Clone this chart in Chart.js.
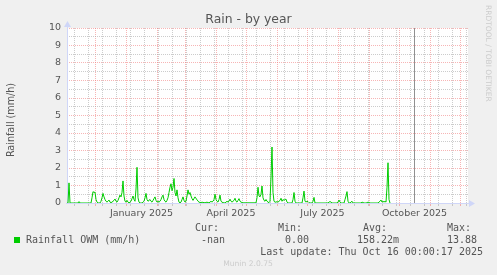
<!DOCTYPE html>
<html>
<head>
<meta charset="utf-8">
<script src="https://cdn.jsdelivr.net/npm/chart.js@4/dist/chart.umd.min.js"></script>
<style>
html, body { margin: 0; padding: 0; background: #F0F0F0; }
canvas { display: block; }
</style>
</head>
<body>
<canvas id="grafica" width="497" height="275"></canvas>
<script>
//DATOS (dias contados desde 1 enero 2025)
const xLabels = ['January 2025', 'April 2025', 'July 2025', 'October 2025'];
const xLabelDays = [15.5, 105, 196.5, 288.5];
const monthStartDays = [-31, 0, 31, 59, 90, 120, 151, 181, 212, 243, 273, 304, 334];
const yTicks = [0, 1, 2, 3, 4, 5, 6, 7, 8, 9, 10];
const lastUpdateDay = 288;

// lluvia diaria, empieza el 3 nov 2024
const rainStartDay = -59;
const rainValues = [
  0, 0, 1.15, 0, 0, 0, 0, 0, 0, 0,
  0, 0, 0.08, 0, 0, 0, 0, 0, 0, 0,
  0, 0, 0, 0, 0, 0.3, 0.65, 0.6, 0.62, 0.2,
  0.05, 0, 0, 0, 0.1, 0.3, 0.55, 0.35, 0.2, 0.1,
  0.05, 0.1, 0.17, 0.05, 0.02, 0.05, 0.1, 0.15, 0.23, 0.1,
  0.05, 0.15, 0.3, 0.45, 0.35, 0.6, 1.26, 0.4, 0.1, 0.05,
  0.15, 0.05, 0, 0.05, 0.1, 0.25, 0.4, 0.2, 0.1, 0.8,
  2.04, 0.3, 0.05, 0, 0, 0, 0.05, 0.1, 0.3, 0.55,
  0.2, 0.1, 0.15, 0.2, 0.1, 0.05, 0.15, 0.25, 0.35, 0.15,
  0.05, 0.1, 0.05, 0.1, 0.2, 0.35, 0.45, 0.2, 0.1, 0.05,
  0.15, 0.3, 0.6, 0.9, 1.1, 0.7, 0.9, 1.4, 0.6, 0.4,
  0.75, 0.3, 0.05, 0, 0.05, 0.2, 0.35, 0.15, 0.05, 0.1,
  0.4, 0.75, 0.5, 0.6, 0.4, 0.25, 0.15, 0.25, 0.35, 0.25,
  0.2, 0.1, 0.05, 0.03, 0.02, 0.05, 0.03, 0.02, 0.01, 0.03,
  0.05, 0.02, 0.01, 0.05, 0.1, 0.05, 0.1, 0.2, 0.5, 0.2,
  0.1, 0.05, 0.2, 0.45, 0.1, 0.05, 0.02, 0.01, 0, 0.05,
  0.1, 0.05, 0.1, 0.22, 0.1, 0.05, 0.1, 0.15, 0.27, 0.1,
  0.05, 0.15, 0.25, 0.1, 0.05, 0.03, 0.01, 0.01, 0.01, 0.01,
  0.01, 0.01, 0.01, 0.01, 0.01, 0.01, 0.01, 0.01, 0.01, 0.01,
  0.3, 0.9, 0.4, 0.35, 0.5, 0.97, 0.3, 0.15, 0.1, 0.2,
  0.1, 0.05, 0.02, 0.1, 1.5, 3.2, 0.6, 0.1, 0.05, 0.05,
  0.08, 0.05, 0.1, 0.15, 0.27, 0.1, 0.2, 0.15, 0.2, 0.22,
  0.05, 0, 0, 0, 0, 0, 0.2, 0.6, 0.1, 0,
  0, 0, 0, 0, 0, 0, 0.3, 0.68, 0.1, 0.05,
  0.1, 0.08, 0.02, 0, 0, 0, 0.1, 0.32, 0, 0,
  0, 0, 0, 0, 0, 0, 0, 0, 0, 0,
  0, 0, 0.05, 0.08, 0.05, 0, 0, 0, 0, 0,
  0, 0.05, 0.17, 0.05, 0, 0, 0, 0, 0.2, 0.4,
  0.65, 0.1, 0, 0, 0.05, 0.1, 0, 0, 0, 0,
  0, 0, 0, 0, 0, 0.05, 0.03, 0, 0, 0,
  0.02, 0.05, 0.03, 0, 0, 0, 0, 0, 0, 0,
  0, 0, 0.05, 0.1, 0.17, 0.05, 0.1, 0.05, 0.1, 0.05,
  0.9, 2.3, 0.2, 0
];

// LEYENDA
const seriesName = 'Rainfall OWM (mm/h)';
const statNames = ['Cur:', 'Min:', 'Avg:', 'Max:'];
const statValues = ['-nan', '0.00', '158.22m', '13.88'];
const lastUpdateText = 'Last update: Thu Oct 16 00:00:17 2025';

/////////////

const GREEN = '#00CC00';
const AXIS = '#CFD6F8';
const MAJOR = 'rgba(240,120,120,0.55)';
const MINOR = 'rgba(170,170,170,0.6)';
const FONT = '#555555';

const puntos = rainValues.map((v, i) => ({ x: rainStartDay + i, y: v }));

const munin = {
  id: 'munin',
  beforeDraw(chart) {
    const c = chart.ctx, a = chart.chartArea;
    c.save();
    c.fillStyle = '#F0F0F0';
    c.fillRect(0, 0, chart.width, chart.height);
    c.fillStyle = '#FFFFFF';
    c.fillRect(a.left, a.top, a.right - a.left, a.bottom - a.top);
    c.restore();
  },
  beforeDatasetsDraw(chart) {
    const c = chart.ctx, a = chart.chartArea;
    c.save();
    // linea de "ahora"
    const xv = Math.round(chart.scales.x.getPixelForValue(lastUpdateDay)) + 0.5;
    c.strokeStyle = '#909090';
    c.lineWidth = 1;
    c.beginPath();
    c.moveTo(xv, a.top);
    c.lineTo(xv, a.bottom);
    c.stroke();
    // ejes con flechas
    c.strokeStyle = AXIS;
    c.fillStyle = AXIS;
    c.beginPath();
    c.moveTo(a.left + 0.5, a.bottom + 1);
    c.lineTo(a.left + 0.5, a.top - 4);
    c.moveTo(a.left - 1, a.bottom + 0.5);
    c.lineTo(a.right + 2, a.bottom + 0.5);
    c.stroke();
    c.beginPath();
    c.moveTo(a.left - 3, a.top - 1);
    c.lineTo(a.left + 4, a.top - 1);
    c.lineTo(a.left + 0.5, a.top - 7);
    c.closePath();
    c.fill();
    c.beginPath();
    c.moveTo(a.right + 1, a.bottom - 3);
    c.lineTo(a.right + 1, a.bottom + 4);
    c.lineTo(a.right + 7, a.bottom + 0.5);
    c.closePath();
    c.fill();
    c.restore();
  },
  afterDraw(chart) {
    const c = chart.ctx;
    c.save();
    c.fillStyle = FONT;
    c.textAlign = 'center';
    c.textBaseline = 'alphabetic';
    c.font = '12.4px "DejaVu Sans"';
    c.fillText('Rain - by year', 248.5, 22.5);

    c.save();
    c.translate(11, 120);
    c.rotate(-Math.PI / 2);
    c.textBaseline = 'middle';
    c.font = '9.6px "DejaVu Sans"';
    c.fillText('Rainfall (mm/h)', 0, 0);
    c.restore();

    c.save();
    c.translate(487.5, 5);
    c.rotate(Math.PI / 2);
    c.textAlign = 'left';
    c.textBaseline = 'middle';
    c.fillStyle = '#CCCCCC';
    c.font = '7.5px "DejaVu Sans"';
    c.fillText('RRDTOOL / TOBI OETIKER', 0, 0);
    c.restore();

    // leyenda
    c.fillStyle = GREEN;
    c.fillRect(14, 237, 6, 6);
    c.fillStyle = FONT;
    c.font = '10px "DejaVu Sans Mono"';
    c.textAlign = 'left';
    c.textBaseline = 'middle';
    c.fillText(seriesName, 26, 240);
    const nameX = [195, 278, 363, 447];
    const valX = [201, 285, 357, 447];
    statNames.forEach((s, i) => c.fillText(s, nameX[i], 228));
    statValues.forEach((s, i) => c.fillText(s, valX[i], 240));
    c.textAlign = 'right';
    c.fillText(lastUpdateText, 483, 252);

    c.textAlign = 'center';
    c.fillStyle = '#CCCCCC';
    c.font = '7.6px "DejaVu Sans"';
    c.fillText('Munin 2.0.75', 248, 264);
    c.restore();
  }
};

function colorX(ctx) {
  const k = ctx.tick && ctx.tick.kind;
  if (k === 'major') return MAJOR;
  if (k === 'minor') return MINOR;
  return 'rgba(0,0,0,0)';
}

function colorY(ctx) {
  return ctx.tick && ctx.tick.kind === 'major' ? MAJOR : MINOR;
}

const grafica = new Chart(document.getElementById('grafica').getContext('2d'), {
  type: 'line',
  data: {
    datasets: [{
      label: seriesName,
      data: puntos,
      borderColor: GREEN,
      borderWidth: 1,
      pointRadius: 0,
      tension: 0,
      fill: false
    }]
  },
  options: {
    responsive: false,
    animation: false,
    devicePixelRatio: 1,
    layout: { padding: { left: 0, top: 28, right: 29, bottom: 0 } },
    plugins: { legend: { display: false }, tooltip: { enabled: false } },
    scales: {
      x: {
        type: 'linear',
        min: -59,
        max: 342,
        bounds: 'data',
        afterBuildTicks(scale) {
          const t = [];
          for (let d = -52; d <= 342; d += 14) t.push({ value: d, kind: 'minor' });
          monthStartDays.forEach(d => t.push({ value: d, kind: 'major' }));
          xLabelDays.forEach((d, i) => t.push({ value: d, kind: 'label', text: xLabels[i] }));
          t.sort((p, q) => p.value - q.value);
          scale.ticks = t;
        },
        afterFit(scale) { scale.height = 72; },
        border: { display: false, dash: [1, 1] },
        grid: { color: colorX, tickColor: colorX, lineWidth: 1, drawTicks: true, tickLength: 3 },
        ticks: {
          autoSkip: false,
          maxRotation: 0,
          padding: 2,
          color: FONT,
          font: { family: 'DejaVu Sans', size: 9.5 },
          callback: (v, i, ticks) => ticks[i].kind === 'label' ? ticks[i].text : ''
        }
      },
      y: {
        min: 0,
        max: 10,
        afterBuildTicks(scale) {
          const t = [];
          yTicks.forEach(v => t.push({ value: v, kind: 'major' }));
          yTicks.slice(0, -1).forEach(v => t.push({ value: v + 0.5, kind: 'minor' }));
          t.sort((p, q) => p.value - q.value);
          scale.ticks = t;
        },
        afterFit(scale) { scale.width = 67; },
        border: { display: false, dash: [1, 1] },
        grid: { color: colorY, lineWidth: 1, drawTicks: false },
        ticks: {
          autoSkip: false,
          padding: 6,
          color: FONT,
          font: { family: 'DejaVu Sans', size: 9.5 },
          callback: (v, i, ticks) => ticks[i].kind === 'major' ? String(v) : ''
        }
      }
    }
  },
  plugins: [munin]
});
</script>
</body>
</html>
